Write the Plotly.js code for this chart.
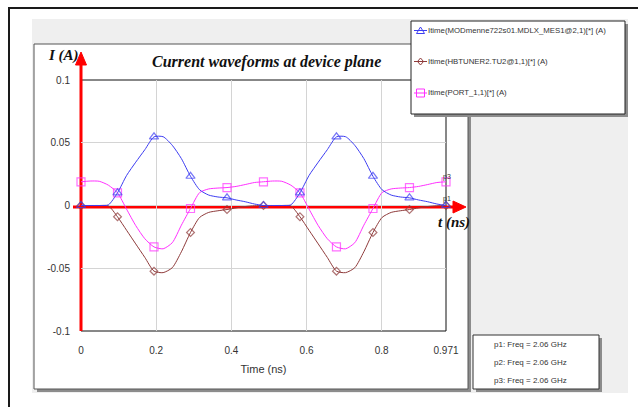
<!DOCTYPE html>
<html>
<head>
<meta charset="utf-8">
<script src="https://cdn.plot.ly/plotly-3.0.1.min.js"></script>
<style>html,body{margin:0;padding:0;background:#fff;}#chart{width:638px;height:407px;}</style>
</head>
<body>
<div id="chart"></div>
<script>
// ---- data ----
const timeNs = [0, 0.0243, 0.0485, 0.0728, 0.0971, 0.1214, 0.1456, 0.1699, 0.1942, 0.2185,
  0.2427, 0.2670, 0.2913, 0.3156, 0.3398, 0.3641, 0.3884, 0.4127, 0.4369, 0.4612,
  0.4854, 0.5097, 0.5340, 0.5582, 0.5825, 0.6068, 0.6311, 0.6553, 0.6796, 0.7039,
  0.7282, 0.7524, 0.7767, 0.8010, 0.8253, 0.8495, 0.8738, 0.8981, 0.9224, 0.9466, 0.971];

const iMod = [0, 0, 0, 0.0005, 0.0101, 0.024, 0.0345, 0.0445, 0.0547, 0.0548,
  0.048, 0.0374, 0.0233, 0.0125, 0.0083, 0.0068, 0.0061, 0.0044, 0.003, 0.0012,
  0, 0, 0, 0.0005, 0.0101, 0.024, 0.0345, 0.0445, 0.0547, 0.0548,
  0.048, 0.0374, 0.0233, 0.0125, 0.0083, 0.0068, 0.0061, 0.0044, 0.003, 0.0012, 0];

const iTuner = [0, 0, 0, -0.0003, -0.009, -0.0198, -0.0306, -0.0414, -0.0523, -0.0535,
  -0.0496, -0.0369, -0.0215, -0.0095, -0.0055, -0.0042, -0.0032, -0.0019, -0.0008, -0.0002,
  0, 0, 0, -0.0003, -0.009, -0.0198, -0.0306, -0.0414, -0.0523, -0.0535,
  -0.0496, -0.0369, -0.0215, -0.0095, -0.0055, -0.0042, -0.0032, -0.0019, -0.0008, -0.0002, 0];

const iPort = [0.0189, 0.0195, 0.0193, 0.0162, 0.0101, -0.003, -0.016, -0.0265, -0.033, -0.0345,
  -0.0297, -0.0157, -0.0024, 0.0103, 0.0132, 0.0139, 0.0143, 0.0152, 0.0167, 0.0183,
  0.0189, 0.0195, 0.0193, 0.0162, 0.0101, -0.003, -0.016, -0.0265, -0.033, -0.0345,
  -0.0297, -0.0157, -0.0024, 0.0103, 0.0132, 0.0139, 0.0143, 0.0152, 0.0167, 0.0183, 0.0189];

const seriesNames = ['Itime(MODmenne722s01.MDLX_MES1@2,1)[*] (A)',
  'Itime(HBTUNER2.TU2@1,1)[*] (A)',
  'Itime(PORT_1,1)[*] (A)'];

const xTickVals = [0, 0.2, 0.4, 0.6, 0.8, 0.971];
const xTickText = ['0', '0.2', '0.4', '0.6', '0.8', '0.971'];
const yTickVals = [-0.1, -0.05, 0, 0.05, 0.1];
const yTickText = ['-0.1', '-0.05', '0', '0.05', '0.1'];

const markerLines = ['p1: Freq = 2.06 GHz', 'p2: Freq = 2.06 GHz', 'p3: Freq = 2.06 GHz'];

// ---- layout helpers (pixel -> paper) ----
const W = 638, H = 407, L = 81, R = 446, T = 80, B = 331;
const px = x => (x - L) / (R - L);
const py = y => (B - y) / (B - T);

const markEvery = (n, size) => timeNs.map((_, i) => (i % n === 0 ? size : 0));

const colBlue = '#3d3df2', colBrown = '#8f3b3b', colMag = '#ff30ff';

function trace(y, name, color, symbol, size) {
  return {
    x: timeNs, y: y, name: name, type: 'scatter', mode: 'lines+markers',
    line: {color: color, width: 1, shape: 'spline', smoothing: 0.65},
    marker: {symbol: symbol, size: markEvery(4, size), color: color, line: {color: color, width: 1.2}},
    showlegend: false, cliponaxis: false, hoverinfo: 'skip'
  };
}

const data = [
  trace(iTuner, seriesNames[1], colBrown, 'diamond-open', 6),
  trace(iPort, seriesNames[2], colMag, 'square-open', 8),
  trace(iMod, seriesNames[0], colBlue, 'triangle-up-open', 8)
];

function rect(x0, y0, x1, y1, fill, line, lw, layer) {
  return {type: 'rect', xref: 'paper', yref: 'paper', x0: px(x0), y0: py(y0), x1: px(x1), y1: py(y1),
    fillcolor: fill, line: {color: line || 'rgba(0,0,0,0)', width: lw || 0}, layer: layer || 'below'};
}
function seg(x0, y0, x1, y1, color, w, layer) {
  return {type: 'line', xref: 'paper', yref: 'paper', x0: px(x0), y0: py(y0), x1: px(x1), y1: py(y1),
    line: {color: color, width: w}, layer: layer || 'below'};
}
function poly(pts, fill, line, layer) {
  const d = 'M ' + pts.map(p => px(p[0]) + ',' + py(p[1])).join(' L ') + ' Z';
  return {type: 'path', xref: 'paper', yref: 'paper', path: d, fillcolor: fill,
    line: {color: line, width: 1}, layer: layer || 'below'};
}

const shapes = [
  rect(9, 8, 660, 430, 'rgba(0,0,0,0)', '#1a1a1a', 2, 'below'),
  rect(32, 19, 628, 393, '#efefef', null, 0, 'below'),
  rect(37, 47, 471, 392, '#8c8c8c', null, 0, 'below'),
  rect(34, 44, 468, 389, '#ffffff', '#555555', 1, 'below'),
  rect(476, 338, 602, 392, '#8c8c8c', null, 0, 'below'),
  rect(473, 335, 599, 389, '#ffffff', '#333333', 1, 'below'),
  rect(L, T, R, B, 'rgba(0,0,0,0)', '#111111', 1, 'between'),
  // red axis arrows
  seg(81, 331, 81, 62, '#ff0000', 3, 'between'),
  poly([[81, 52], [75.5, 65], [86.5, 65]], '#ff0000', '#ff0000', 'between'),
  seg(73, 207, 455, 207, '#ff0000', 3, 'between'),
  poly([[466, 207], [453, 201], [453, 213]], '#ff0000', '#ff0000', 'between'),
  // legend box (above plot frame)
  rect(414, 24, 628, 117, '#8c8c8c', null, 0, 'above'),
  rect(411, 21, 625, 114, '#ffffff', '#222222', 1, 'above'),
  // legend symbols
  seg(414, 30.5, 427, 30.5, colBlue, 1, 'above'),
  poly([[416.5, 33.5], [420.5, 27], [424.5, 33.5]], 'rgba(0,0,0,0)', colBlue, 'above'),
  seg(414, 61.5, 427, 61.5, colBrown, 1, 'above'),
  poly([[420.5, 58], [423.5, 61.5], [420.5, 65], [417.5, 61.5]], 'rgba(0,0,0,0)', colBrown, 'above'),
  seg(414, 93, 427, 93, colMag, 1, 'above'),
  rect(416.5, 89, 424.5, 97, 'rgba(0,0,0,0)', colMag, 1, 'above')
];

const ann = (x, y, text, font, extra) => Object.assign({
  xref: 'paper', yref: 'paper', x: px(x), y: py(y), text: text, showarrow: false,
  xanchor: 'center', yanchor: 'middle', font: font
}, extra || {});

const serif = 'Liberation Serif, Times New Roman, serif';
const sans = 'Liberation Sans, Arial, sans-serif';

const annotations = [
  ann(266, 62, '<b><i>Current waveforms at device plane</i></b>', {family: serif, size: 16, color: '#111'}),
  ann(63, 55, '<b><i>I (A)</i></b>', {family: serif, size: 15, color: '#111'}),
  ann(454, 223, '<b><i>t (ns)</i></b>', {family: serif, size: 15, color: '#111'}),
  ann(426, 30.5, seriesNames[0], {family: sans, size: 7.8, color: '#333'}, {xanchor: 'left'}),
  ann(426, 61.5, seriesNames[1], {family: sans, size: 7.8, color: '#333'}, {xanchor: 'left'}),
  ann(426, 93, seriesNames[2], {family: sans, size: 7.8, color: '#333'}, {xanchor: 'left'}),
  ann(530, 344, markerLines[0], {family: sans, size: 8, color: '#333'}),
  ann(530, 362, markerLines[1], {family: sans, size: 8, color: '#333'}),
  ann(530, 380.5, markerLines[2], {family: sans, size: 8, color: '#333'}),
  ann(447, 177, 'p3', {family: sans, size: 7, color: '#333'}),
  ann(447, 199, 'p1', {family: sans, size: 7, color: '#333'})
];

const layout = {
  width: W, height: H, autosize: false,
  margin: {l: L, r: W - R, t: T, b: H - B, pad: 0},
  paper_bgcolor: '#ffffff', plot_bgcolor: 'rgba(0,0,0,0)',
  showlegend: false,
  xaxis: {
    range: [0, 0.971], tickvals: xTickVals, ticktext: xTickText,
    showgrid: true, gridcolor: '#d4d4d4', gridwidth: 1, zeroline: false, showline: false,
    ticks: '', ticklabelstandoff: 12,
    tickfont: {family: sans, size: 10, color: '#333'},
    title: {text: 'Time (ns)', font: {family: sans, size: 11, color: '#333'}, standoff: 10}
  },
  yaxis: {
    range: [-0.1, 0.1], tickvals: yTickVals, ticktext: yTickText,
    showgrid: true, gridcolor: '#d4d4d4', gridwidth: 1, zeroline: false, showline: false,
    ticks: '', ticklabelstandoff: 10,
    tickfont: {family: sans, size: 10, color: '#333'}
  },
  shapes: shapes,
  annotations: annotations
};

Plotly.newPlot('chart', data, layout, {staticPlot: true, displayModeBar: false});
</script>
</body>
</html>
